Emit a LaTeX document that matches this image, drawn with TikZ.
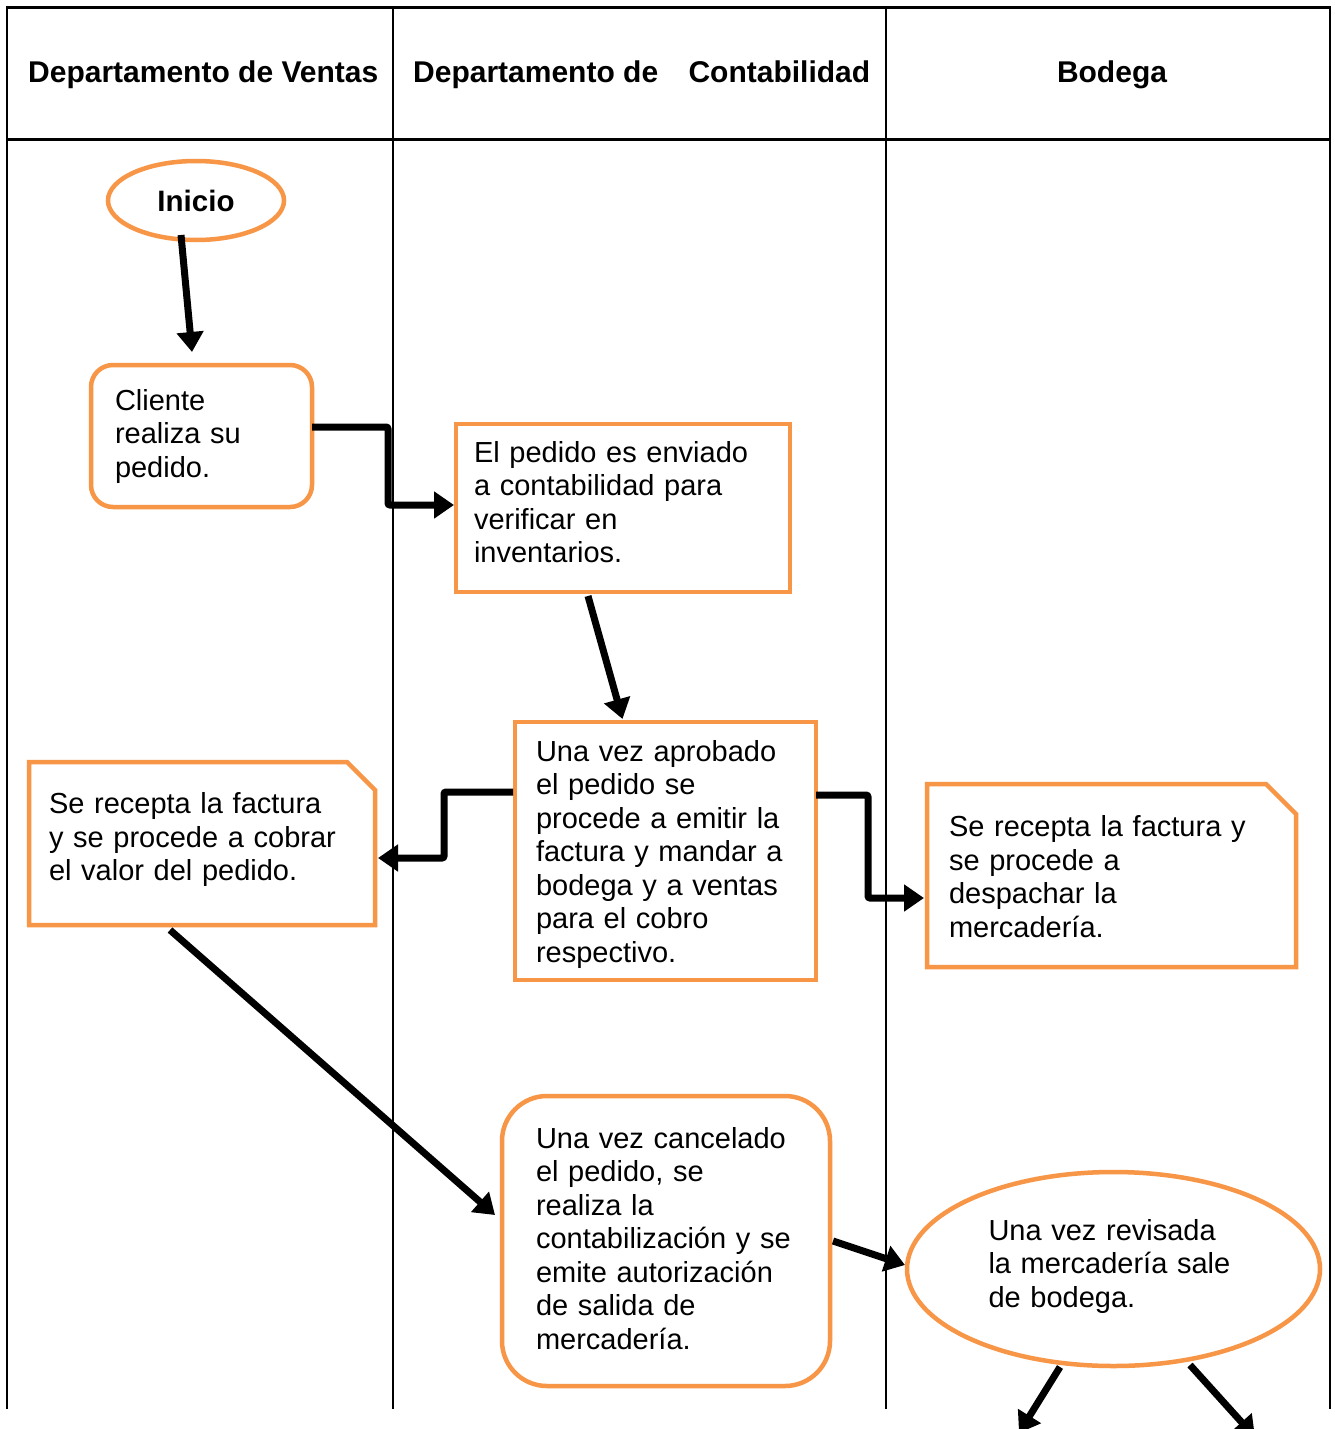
\documentclass[tikz,border=0pt]{standalone}
\usepackage{fontspec}
\setmainfont{Liberation Sans}
\usetikzlibrary{arrows.meta,shapes.geometric,calc}
\definecolor{orng}{HTML}{F79646}
\newcommand\dpth[1]{\rule[-#1]{0pt}{0pt}}
\newcommand\hgt[1]{\rule{0pt}{#1}}
\begin{document}
\begin{tikzpicture}[x=1pt,y=-1pt,
  box/.style={draw=orng,line width=4.5pt,fill=white,align=left,inner ysep=0pt,outer sep=0pt,
    font=\fontsize{29}{33.5}\selectfont},
  snipbox/.style={box,draw=none},
  snipline/.style={draw=orng,line width=4.5pt,line join=miter},
  arr/.style={line width=7pt,-{Triangle[length=20pt,width=26pt]},rounded corners=2pt},
  gridline/.style={line width=2.5pt},
  hdr/.style={font=\bfseries\fontsize{30}{33}\selectfont,inner sep=0pt}]
\useasboundingbox (0,0) rectangle (1334,1429);
\fill[white] (0,0) rectangle (1334,1429);

% table
\draw[gridline] (7,1409) -- (7,7.5) -- (1330,7.5) -- (1330,1409);
\draw[line width=3pt] (7,139.5) -- (1330,139.5);
\draw[gridline] (393,7.5) -- (393,1409);
\draw[gridline] (886,7.5) -- (886,1409);

% headers
\node[hdr,anchor=base west] (h1) at (28,82.5) {Departamento de Ventas};
\node[hdr,anchor=base west] (h2) at (413,82.5) {Departamento de\hspace*{22pt} Contabilidad};
\node[hdr,anchor=base] (h3) at (1112,82.5) {Bodega};

% nodes
\node[draw=orng,line width=4.5pt,ellipse,minimum width=176pt,minimum height=79pt,inner sep=0pt,outer sep=0pt,
  font=\bfseries\fontsize{29.5}{33}\selectfont] (inicio) at (196,200.5) {Inicio};

\node[box,rounded corners=22pt,text width=173pt,inner xsep=24pt,minimum height=142pt] (cliente) at (201.5,436)
  {Cliente\\realiza su\\pedido.};

\node[box,text width=298pt,inner xsep=18pt,minimum height=168pt] (pedido) at (623,508)
  {El pedido es enviado\\a contabilidad para\\verificar en\\inventarios.\dpth{12pt}};

\node[box,text width=259pt,inner xsep=21pt,minimum height=258pt] (aprobado) at (665.5,851)
  {\hgt{27pt}Una vez aprobado\\el pedido se\\procede a emitir la\\factura y mandar a\\bodega y a ventas\\para el cobro\\respectivo.};

\node[snipbox,text width=306pt,inner xsep=20pt,minimum height=163pt] (ls) at (202,843.5)
  {Se recepta la factura\\y se procede a cobrar\\el valor del pedido.\dpth{14pt}};
\draw[snipline] (ls.north west) -- ($(ls.north east)+(-28,0)$) -- ($(ls.north east)+(0,28)$)
  -- (ls.south east) -- (ls.south west) -- cycle;

\node[snipbox,text width=325pt,inner xsep=22pt,minimum height=183pt] (rs) at (1111.5,875.5)
  {\hgt{23pt}Se recepta la factura y\\se procede a\\despachar la\\mercadería.};
\draw[snipline] (rs.north west) -- ($(rs.north east)+(-30,0)$) -- ($(rs.north east)+(0,30)$)
  -- (rs.south east) -- (rs.south west) -- cycle;

\node[box,rounded corners=45pt,text width=260pt,inner xsep=34pt,minimum height=290pt] (cancelado) at (666,1241)
  {Una vez cancelado\\el pedido, se\\realiza la\\contabilización y se\\emite autorización\\de salida de\\mercadería.\dpth{6pt}};

\node[box,ellipse,text width=250pt,inner sep=0pt,minimum width=413pt,minimum height=194pt] (bigell) at (1113.5,1269)
  {Una vez revisada\\la mercadería sale\\de bodega.\dpth{12pt}};

\coordinate (out1) at (1019,1433);
\coordinate (out2) at (1255,1437);

% connectors
\draw[arr] ($(inicio.south)+(-15,-5)$) -- ($(cliente.north)+(-9.5,-13)$);
\draw[arr] ($(cliente.east)+(0,-9)$) -- ++(76,0) |- ($(pedido.west)+(-2,-3)$);
\draw[arr] ($(pedido.south)+(-35,4)$) -- ($(aprobado.north)+(-43,-3)$);
\draw[arr] ($(aprobado.west)+(-2,-59)$) -- ++(-69,0) |- ($(ls.east)+(3,14.5)$);
\draw[arr] ($(aprobado.east)+(0,-56)$) -- ++(52,0) |- ($(rs.west)+(-3,22.5)$);
\draw[arr] ($(ls.south)+(-32,5)$) -- ($(cancelado.west)+(-7,-26)$);
\draw[arr] ($(cancelado.east)+(3,0)$) -- ($(bigell.west)+(-2,-4)$);
\draw[arr] ($(bigell.south)+(-53.5,1)$) -- (out1);
\draw[arr] ($(bigell.south)+(76.5,-1)$) -- (out2);
\end{tikzpicture}
\end{document}
